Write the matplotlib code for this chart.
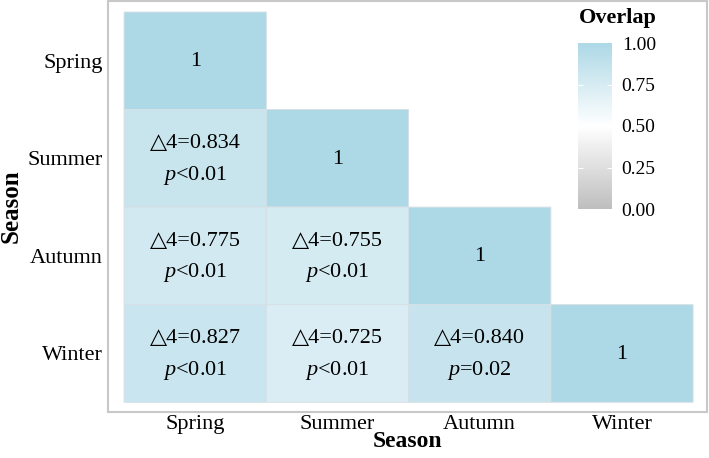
import numpy as np
import matplotlib.pyplot as plt
from matplotlib.colors import LinearSegmentedColormap

# datos
seasons = ["Spring", "Summer", "Autumn", "Winter"]
overlap = np.array([
    [1.000, np.nan, np.nan, np.nan],
    [0.834, 1.000, np.nan, np.nan],
    [0.775, 0.755, 1.000, np.nan],
    [0.827, 0.725, 0.840, 1.000],
])
pvals = [
    [None, None, None, None],
    ["<0.01", None, None, None],
    ["<0.01", "<0.01", None, None],
    ["<0.01", "<0.01", "=0.02", None],
]
cbar_ticks = [0.00, 0.25, 0.50, 0.75, 1.00]

plt.rcParams['font.family'] = ['Liberation Serif', 'DejaVu Sans']
plt.rcParams['mathtext.fontset'] = 'custom'
plt.rcParams['mathtext.rm'] = 'Liberation Serif'
plt.rcParams['mathtext.it'] = 'Liberation Serif:italic'

cmap = LinearSegmentedColormap.from_list("ov", ["#BEBEBE", "#FFFFFF", "#ADD8E6"])

fig = plt.figure(figsize=(7.09, 4.58), dpi=100)
ax = fig.add_axes([108/709, 1 - 412/458, 599/709, 411/458])

data = np.ma.masked_invalid(overlap)
x = np.arange(5) - 0.5
mesh = ax.pcolor(x, x, data, cmap=cmap, vmin=0, vmax=1,
                 edgecolors="#D5E0E5", linewidth=0.7)

n = len(seasons)
for i in range(n):
    for j in range(n):
        if np.isnan(overlap[i, j]):
            continue
        if i == j:
            ax.text(j, i + 0.01, "1", ha="center", va="center", fontsize=16)
        else:
            ax.text(j, i - 0.15, "△4=%.3f" % overlap[i, j], ha="center",
                    va="center", fontsize=16)
            ax.text(j, i + 0.175, r"$\it{p}$" + pvals[i][j], ha="center",
                    va="center", fontsize=16)

ax.set_xlim(-0.5 - 0.113, 3.5 + 0.098)
ax.set_ylim(3.5 + 0.1, -0.5 - 0.113)
ax.set_xticks(range(n))
ax.set_xticklabels(seasons, fontsize=16)
ax.set_yticks(range(n))
ax.set_yticklabels(seasons, fontsize=16)
ax.tick_params(axis="y", length=0, pad=4)
ax.tick_params(axis="x", length=0, pad=2)
ax.set_xlabel("Season", fontsize=17, fontweight="bold", labelpad=-2)
ax.set_ylabel("Season", fontsize=18, fontweight="bold", labelpad=3)
for s in ax.spines.values():
    s.set_color("#C8C8C8")
    s.set_linewidth(1.5)

# leyenda
cax = fig.add_axes([578/709, 1 - 209/458, 34/709, 166/458])
cb = fig.colorbar(mesh, cax=cax, ticks=cbar_ticks)
cb.outline.set_visible(False)
cb.ax.set_yticklabels(["%.2f" % t for t in cbar_ticks], fontsize=14)
cb.ax.tick_params(length=0, pad=7)
for t in cbar_ticks[1:-1]:
    cax.hlines(t, 0, 0.15, color="white", lw=0.8)
    cax.hlines(t, 0.85, 1, color="white", lw=0.8)
fig.text(618/709, 1 - 18/458, "Overlap", ha="center", va="center",
         fontsize=16, fontweight="bold")

fig.savefig("out.png", dpi=100)
